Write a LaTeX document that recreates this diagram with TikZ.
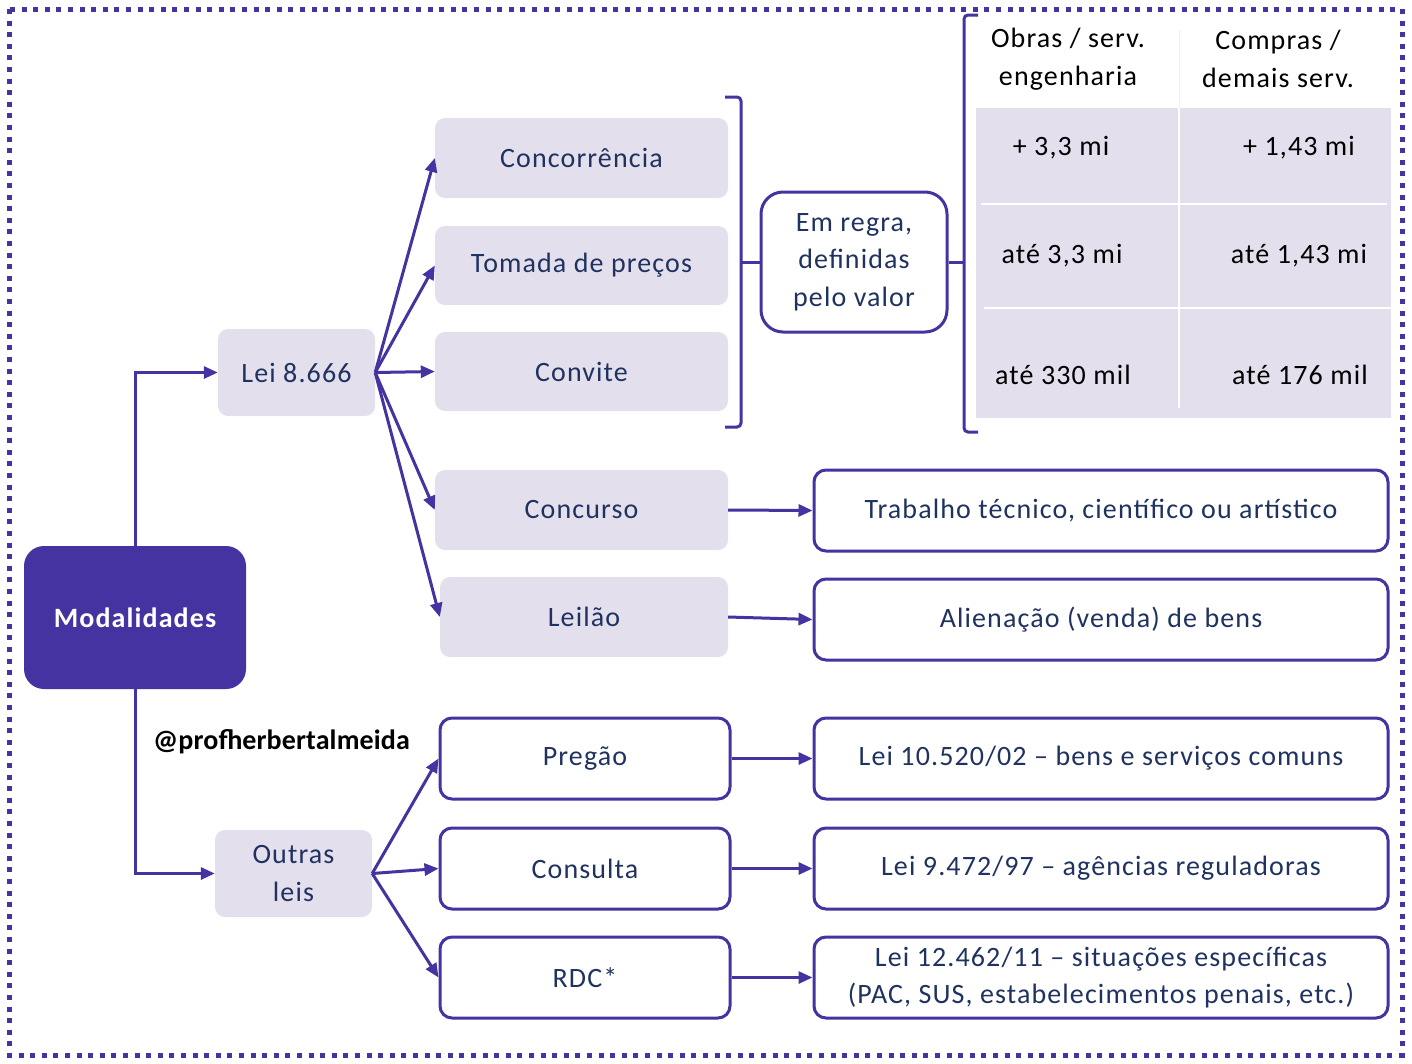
\documentclass[tikz,border=0pt]{standalone}
\usepackage{fontspec}
\setmainfont[LetterSpace=4]{Carlito}
\usetikzlibrary{arrows.meta}
\definecolor{purp}{RGB}{68,51,160}
\definecolor{lav}{RGB}{228,223,236}
\definecolor{navy}{RGB}{31,50,96}
\begin{document}
\begin{tikzpicture}[x=1pt,y=-1pt,
  txt/.style={font=\fontsize{28}{37.5}\selectfont},
  lbox/.style={txt, fill=lav, rounded corners=10pt, text=navy, align=center, inner sep=0pt},
  wbox/.style={txt, draw=purp, line width=3pt, fill=white, rounded corners=12pt, text=navy, align=center, inner sep=0pt},
  arr/.style={draw=purp, line width=3pt, -{Triangle[length=14pt,width=12pt]}},
  brk/.style={draw=purp, line width=3pt, rounded corners=4pt},
  cell/.style={txt, text=black, align=center, inner sep=0pt}]
\useasboundingbox (0,0) rectangle (1412,1063);
% border
\draw[purp, line width=5pt, dash pattern=on 5pt off 6.6pt] (9,9) rectangle (1402,1055);
% main node
\node[fill=purp, rounded corners=20pt, minimum width=222pt, minimum height=143pt, inner sep=0pt,
      text=white, font=\fontsize{28}{32}\selectfont\bfseries] (mod) at (135,617.5) {Modalidades};
\node[lbox, minimum width=157pt, minimum height=87pt] (lei) at (296.5,372.5) {Lei 8.666};
\node[lbox, minimum width=157pt, minimum height=87pt] (out) at (293.5,873.5) {Outras\\leis};
% Lei 8.666 children
\node[lbox, minimum width=293pt, minimum height=80pt] (conc) at (581.5,158) {Concorrência};
\node[lbox, minimum width=293pt, minimum height=79pt] (tom) at (581.5,265.5) {Tomada de preços};
\node[lbox, minimum width=293pt, minimum height=79pt] (conv) at (581.5,371.5) {Convite};
\node[lbox, minimum width=293pt, minimum height=80pt] (cso) at (581.5,510) {Concurso};
\node[lbox, minimum width=288pt, minimum height=80pt] (lei2) at (584,617) {Leilão};
% outras leis children
\node[wbox, minimum width=290pt, minimum height=81pt] (preg) at (585,758.5) {Pregão};
\node[wbox, minimum width=290pt, minimum height=81pt] (cons) at (585,868.5) {Consulta};
\node[wbox, minimum width=290pt, minimum height=81pt] (rdc) at (585,977.5) {RDC*};
% right boxes
\node[wbox, minimum width=574pt, minimum height=81pt] (trab) at (1101,510.5) {Trabalho técnico, científico ou artístico};
\node[wbox, minimum width=574pt, minimum height=81pt] (alien) at (1101,619.5) {Alienação (venda) de bens};
\node[wbox, minimum width=574pt, minimum height=81pt] (l10) at (1101,758.5) {Lei 10.520/02 – bens e serviços comuns};
\node[wbox, minimum width=574pt, minimum height=81pt] (l9) at (1101,868.5) {Lei 9.472/97 – agências reguladoras};
\node[wbox, minimum width=574pt, minimum height=81pt] (l12) at (1101,977.5) {Lei 12.462/11 – situações específicas\\(PAC, SUS, estabelecimentos penais, etc.)};
% Em regra
\node[wbox, rounded corners=22pt, minimum width=186pt, minimum height=140pt] (emr) at (854,262) {Em regra,\\definidas\\pelo valor};
% watermark
\node[anchor=west, inner sep=0pt, font=\fontsize{28}{32}\selectfont\bfseries\addfontfeatures{LetterSpace=0.5}, text=black] (wm) at (153,742) {@profherbertalmeida};
% connectors
\draw[arr] (mod.north) |- (lei.west);
\draw[arr] (mod.south) |- (out.west);
\coordinate (lo) at (lei.east);
\draw[arr] (lo) -- (conc.west);
\draw[arr] (lo) -- (tom.west);
\draw[arr] (lo) -- (conv.west);
\draw[arr] (lo) -- (cso.west);
\draw[arr] (lo) -- (lei2.west);
\coordinate (oo) at (out.east);
\draw[arr] (oo) -- (preg.west);
\draw[arr] (oo) -- (cons.west);
\draw[arr] (oo) -- (rdc.west);
\draw[arr] (cso.east) -- (trab.west);
\draw[arr] (lei2.east) -- (alien.west);
\draw[arr] (preg.east) -- (l10.west);
\draw[arr] (cons.east) -- (l9.west);
\draw[arr] (rdc.east) -- (l12.west);
% brackets
\draw[brk] (725,97) -- (741,97) -- (741,427) -- (725,427);
\draw[purp, line width=3pt] (emr.west) -- (741,262);
\draw[brk] (978,15) -- (964,15) -- (964,432) -- (978,432);
\draw[purp, line width=3pt] (emr.east) -- (964,262);
% table
\fill[lav] (976,108) rectangle (1391,418);
\draw[white, line width=1.5pt] (1179,108) -- (1179,408);
\draw[white, line width=1.5pt] (981,204) -- (1387,204);
\draw[white, line width=1.5pt] (984,308) -- (1391,308);
\draw[black!6, line width=1pt] (1179,30) -- (1179,108);
\node[cell] (h1) at (1068,59) {Obras / serv.\\engenharia};
\node[cell] (h2) at (1278,59) {Compras /\\demais serv.};
\node[cell] (c11) at (1061,148) {+ 3,3 mi};
\node[cell] (c12) at (1299,148) {+ 1,43 mi};
\node[cell] (c21) at (1062,256) {até 3,3 mi};
\node[cell] (c22) at (1299,256) {até 1,43 mi};
\node[cell] (c31) at (1063,375) {até 330 mil};
\node[cell] (c32) at (1300,375) {até 176 mil};
\end{tikzpicture}
\end{document}
